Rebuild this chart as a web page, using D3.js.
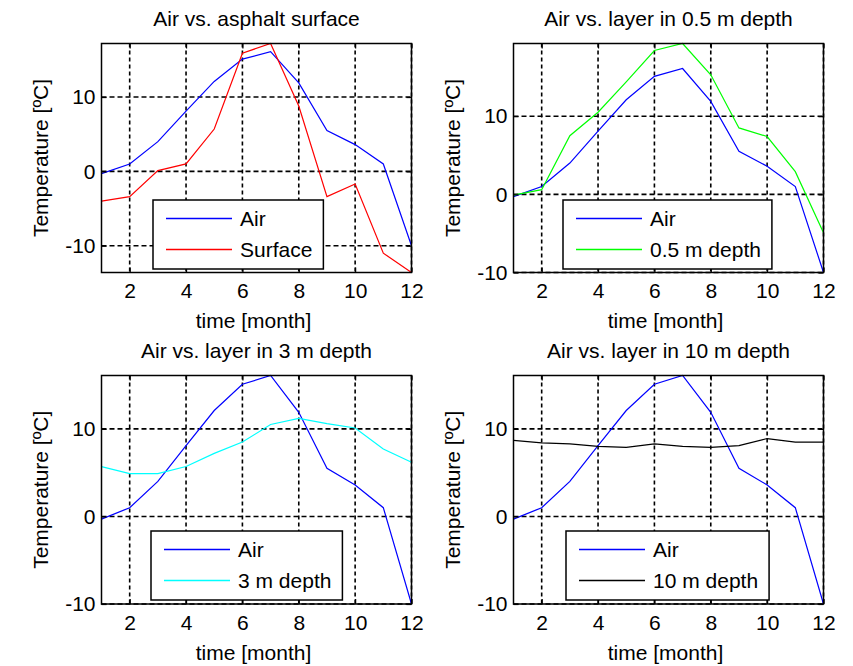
<!DOCTYPE html>
<html>
<head>
<meta charset="utf-8">
<script src="https://cdn.jsdelivr.net/npm/d3@7"></script>
<style>
  body { margin: 0; background: #fff; }
  text { font-family: Arial, "Liberation Sans", sans-serif; fill: #000; }
</style>
</head>
<body>
<svg id="chart" width="853" height="666"></svg>
<script>
// monthly temperatures [ºC]
const months = [1, 2, 3, 4, 5, 6, 7, 8, 9, 10, 11, 12];
const airTemp = [-0.3, 1.0, 4.0, 8.1, 12.1, 15.1, 16.1, 11.9, 5.5, 3.6, 1.0, -10.0];
const surfaceTemp = [-4.0, -3.4, 0.1, 1.0, 5.7, 15.9, 17.2, 8.8, -3.4, -1.7, -11.0, -13.6];
const depth05Temp = [-0.1, 0.6, 7.5, 10.5, 14.4, 18.4, 19.3, 15.3, 8.5, 7.4, 2.9, -4.9];
const depth3Temp = [5.7, 4.9, 4.9, 5.7, 7.2, 8.5, 10.5, 11.2, 10.6, 10.1, 7.7, 6.2];
const depth10Temp = [8.7, 8.4, 8.3, 8.0, 7.9, 8.3, 8.0, 7.9, 8.1, 8.9, 8.5, 8.5];

const xTicks = [2, 4, 6, 8, 10, 12];
const yTicks = [-10, 0, 10];

const titles = ["Air vs. asphalt surface", "Air vs. layer in 0.5 m depth",
                "Air vs. layer in 3 m depth", "Air vs. layer in 10 m depth"];
const layerNames = ["Surface", "0.5 m depth", "3 m depth", "10 m depth"];
const layerValues = [surfaceTemp, depth05Temp, depth3Temp, depth10Temp];
const layerColors = ["#ff0000", "#00ff00", "#00ffff", "#000000"];

// subplot layout (2 x 2)
const cols = [[101.5, 411.5], [513.5, 823.5]];
const rows = [[43.5, 272.5], [375.5, 604]];
const legendLeft = [153, 563, 151, 566];
const fontSize = 21;

const svg = d3.select("#chart");

titles.forEach((title, i) => {
    const [x0, x1] = cols[i % 2];
    const [y0, y1] = rows[Math.floor(i / 2)];
    const layer = layerValues[i];

    const x = d3.scaleLinear().domain([1, 12]).range([x0, x1]);
    const y = d3.scaleLinear().domain(d3.extent(airTemp.concat(layer))).range([y1, y0]);

    const g = svg.append("g");

    // grid
    g.selectAll(".vgrid").data(xTicks).enter().append("line")
        .attr("x1", d => x(d)).attr("x2", d => x(d))
        .attr("y1", y0).attr("y2", y1)
        .attr("stroke", "#000").attr("stroke-width", 1.6)
        .attr("stroke-dasharray", "4,3");
    g.selectAll(".hgrid").data(yTicks).enter().append("line")
        .attr("x1", x0).attr("x2", x1)
        .attr("y1", d => y(d)).attr("y2", d => y(d))
        .attr("stroke", "#000").attr("stroke-width", 1.6)
        .attr("stroke-dasharray", "5,3");

    // data lines
    const line = d3.line().x((d, k) => x(months[k])).y(d => y(d));
    g.append("path").datum(airTemp).attr("d", line)
        .attr("fill", "none").attr("stroke", "#0000ff").attr("stroke-width", 1.2);
    g.append("path").datum(layer).attr("d", line)
        .attr("fill", "none").attr("stroke", layerColors[i]).attr("stroke-width", 1.2);

    // axes, ticks inside
    const fmt = d => String(d);
    const axes = [
        d3.axisBottom(x).tickValues(xTicks).tickSize(-5).tickPadding(11).tickFormat(fmt),
        d3.axisLeft(y).tickValues(yTicks).tickSize(-5).tickPadding(6).tickFormat(fmt),
        d3.axisTop(x).tickValues(xTicks).tickSize(-5).tickFormat(""),
        d3.axisRight(y).tickValues(yTicks).tickSize(-5).tickFormat("")
    ];
    const shifts = [[0, y1], [x0, 0], [0, y0], [x1, 0]];
    axes.forEach((ax, k) => {
        const a = g.append("g").attr("transform", `translate(${shifts[k][0]},${shifts[k][1]})`).call(ax);
        a.select(".domain").remove();
        a.selectAll("line").attr("stroke", "#000").attr("stroke-width", 1.2);
        a.selectAll("text").attr("font-size", fontSize)
            .attr("font-family", "Arial, 'Liberation Sans', sans-serif").attr("fill", "#000");
    });

    g.append("rect").attr("x", x0).attr("y", y0)
        .attr("width", x1 - x0).attr("height", y1 - y0)
        .attr("fill", "none").attr("stroke", "#000").attr("stroke-width", 1.5);

    // labels
    g.append("text").attr("x", (x0 + x1) / 2).attr("y", y0 - 17.5)
        .attr("text-anchor", "middle").attr("font-size", fontSize).text(title);
    g.append("text").attr("x", (x0 + x1) / 2 - 3).attr("y", y1 + 55.5)
        .attr("text-anchor", "middle").attr("font-size", fontSize).text("time [month]");
    g.append("text")
        .attr("transform", `translate(${x0 - 54},${(y0 + y1) / 2}) rotate(-90)`)
        .attr("text-anchor", "middle").attr("font-size", fontSize).text("Temperature [ºC]");

    // legend
    const lx = legendLeft[i];
    const ly = Math.round(y1 - 73);
    const leg = g.append("g");
    const box = leg.append("rect").attr("x", lx).attr("y", ly).attr("height", 69)
        .attr("fill", "#fff").attr("stroke", "#000").attr("stroke-width", 1.5);
    const entries = [["Air", "#0000ff"], [layerNames[i], layerColors[i]]];
    let maxW = 0;
    entries.forEach(([name, color], k) => {
        const cy = ly + 18.5 + k * 31;
        leg.append("line").attr("x1", lx + 13).attr("x2", lx + 79)
            .attr("y1", cy).attr("y2", cy)
            .attr("stroke", color).attr("stroke-width", 1.3);
        const t = leg.append("text").attr("x", lx + 87).attr("y", cy + 7)
            .attr("font-size", fontSize).text(name);
        maxW = Math.max(maxW, t.node().getComputedTextLength());
    });
    box.attr("width", 87 + maxW + 11);
});
</script>
</body>
</html>
